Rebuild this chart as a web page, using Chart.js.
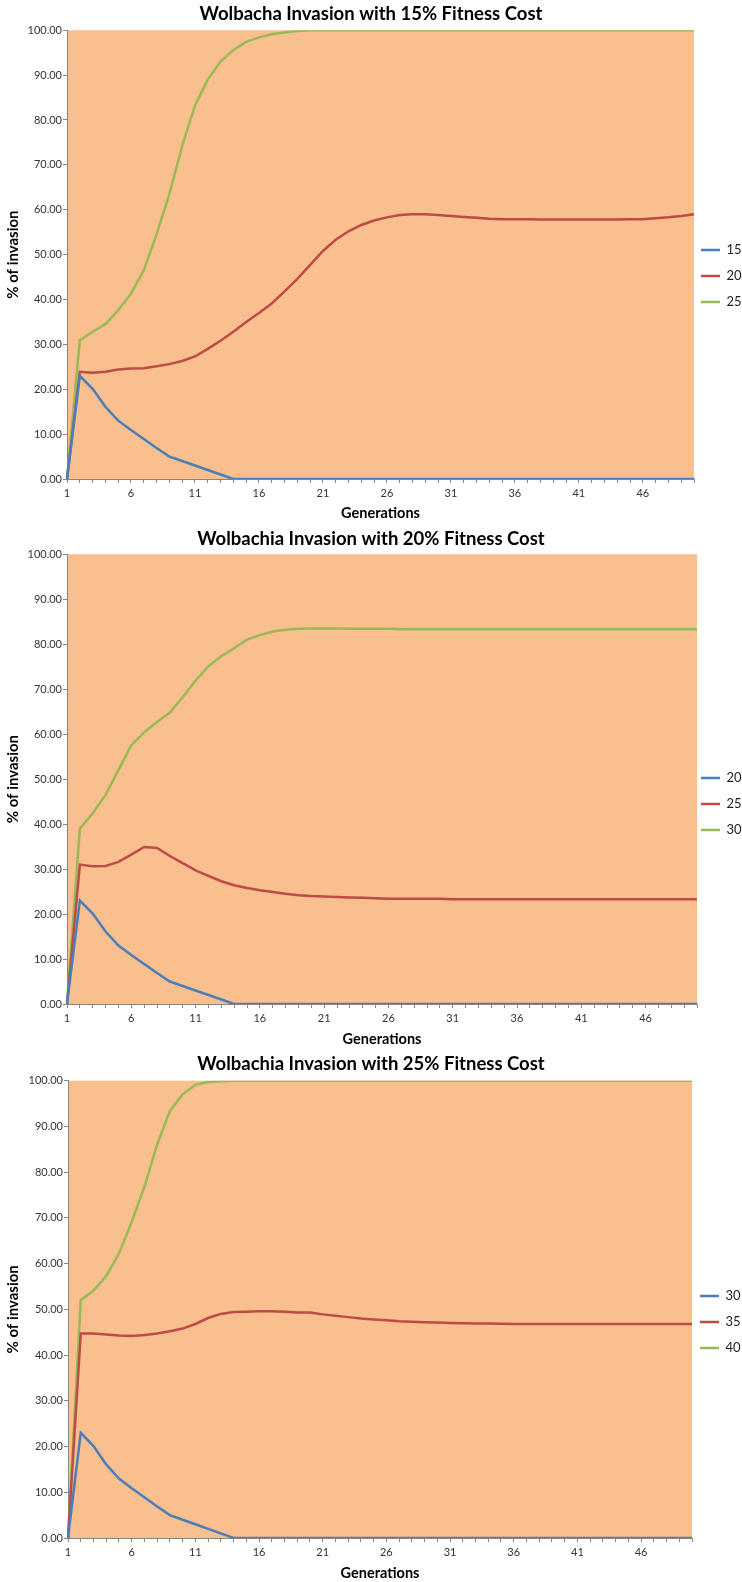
<!DOCTYPE html>
<html>
<head>
<meta charset="utf-8">
<title>Wolbachia Invasion</title>
<script src="https://cdn.jsdelivr.net/npm/chart.js@4.4.1/dist/chart.umd.min.js"></script>
<style>
  body { margin: 0; background: #fff; }
  canvas { display: block; }
</style>
</head>
<body>
<canvas id="grafico15" width="742" height="522"></canvas>
<canvas id="grafico20" width="742" height="526"></canvas>
<canvas id="grafico25" width="742" height="534"></canvas>
<script>
// Gerações (eixo x)
const geracoes = [
  '1','2','3','4','5','6','7','8','9','10',
  '11','12','13','14','15','16','17','18','19','20',
  '21','22','23','24','25','26','27','28','29','30',
  '31','32','33','34','35','36','37','38','39','40',
  '41','42','43','44','45','46','47','48','49','50'
];

// Rótulos do eixo y
const ticksY = [0, 10, 20, 30, 40, 50, 60, 70, 80, 90, 100];

// Títulos
const titulos = [
  'Wolbacha Invasion with 15% Fitness Cost',
  'Wolbachia Invasion with 20% Fitness Cost',
  'Wolbachia Invasion with 25% Fitness Cost'
];

// Nomes das séries em cada gráfico
const series15 = ['15', '20', '25'];
const series20 = ['20', '25', '30'];
const series25 = ['30', '35', '40'];

// Série azul (igual nos três gráficos)
const azul = [
  0, 23.0, 20.1, 16.1, 13.0, 10.9, 8.9, 6.9, 5.0, 4.0,
  3.0, 2.0, 1.0, 0, 0, 0, 0, 0, 0, 0,
  0, 0, 0, 0, 0, 0, 0, 0, 0, 0,
  0, 0, 0, 0, 0, 0, 0, 0, 0, 0,
  0, 0, 0, 0, 0, 0, 0, 0, 0, 0
];

// Gráfico 1 - 15% fitness cost
const vermelho15 = [
  0, 23.9, 23.7, 23.9, 24.4, 24.6, 24.7, 25.1, 25.6, 26.3,
  27.3, 29.0, 30.8, 32.8, 35.0, 37.0, 39.1, 41.8, 44.6, 47.7,
  50.8, 53.3, 55.2, 56.6, 57.6, 58.3, 58.8, 59.0, 59.0, 58.8,
  58.6, 58.4, 58.2, 58.0, 57.9, 57.9, 57.9, 57.8, 57.8, 57.8,
  57.8, 57.8, 57.8, 57.8, 57.9, 57.9, 58.1, 58.3, 58.6, 59.0
];
const verde15 = [
  0, 30.9, 32.8, 34.5, 37.6, 41.3, 46.5, 54.5, 63.5, 74.2,
  83.2, 89.0, 93.0, 95.6, 97.4, 98.4, 99.1, 99.5, 99.8, 100,
  100, 100, 100, 100, 100, 100, 100, 100, 100, 100,
  100, 100, 100, 100, 100, 100, 100, 100, 100, 100,
  100, 100, 100, 100, 100, 100, 100, 100, 100, 100
];

// Gráfico 2 - 20% fitness cost
const vermelho20 = [
  0, 31.0, 30.6, 30.7, 31.6, 33.2, 34.9, 34.7, 32.9, 31.3,
  29.7, 28.5, 27.3, 26.4, 25.8, 25.3, 24.9, 24.5, 24.2, 24.0,
  23.9, 23.8, 23.7, 23.6, 23.5, 23.4, 23.4, 23.4, 23.4, 23.4,
  23.3, 23.3, 23.3, 23.3, 23.3, 23.3, 23.3, 23.3, 23.3, 23.3,
  23.3, 23.3, 23.3, 23.3, 23.3, 23.3, 23.3, 23.3, 23.3, 23.3
];
const verde20 = [
  0, 39.0, 42.4, 46.5, 52.0, 57.5, 60.4, 62.7, 64.8, 68.2,
  71.9, 75.1, 77.3, 79.1, 81.0, 82.0, 82.8, 83.2, 83.4, 83.5,
  83.5, 83.5, 83.4, 83.4, 83.4, 83.4, 83.3, 83.3, 83.3, 83.3,
  83.3, 83.3, 83.3, 83.3, 83.3, 83.3, 83.3, 83.3, 83.3, 83.3,
  83.3, 83.3, 83.3, 83.3, 83.3, 83.3, 83.3, 83.3, 83.3, 83.3
];

// Gráfico 3 - 25% fitness cost
const vermelho25 = [
  0, 44.7, 44.7, 44.5, 44.3, 44.2, 44.4, 44.7, 45.2, 45.8,
  46.8, 48.1, 49.0, 49.4, 49.5, 49.6, 49.6, 49.5, 49.3, 49.3,
  48.9, 48.6, 48.3, 48.0, 47.8, 47.6, 47.4, 47.3, 47.2, 47.1,
  47.0, 46.95, 46.9, 46.9, 46.85, 46.8, 46.8, 46.8, 46.8, 46.8,
  46.8, 46.8, 46.8, 46.8, 46.8, 46.8, 46.8, 46.8, 46.8, 46.8
];
const verde25 = [
  0, 52.0, 54.1, 57.3, 62.2, 69.1, 76.8, 86.0, 93.4, 97.0,
  99.1, 99.7, 99.9, 100, 100, 100, 100, 100, 100, 100,
  100, 100, 100, 100, 100, 100, 100, 100, 100, 100,
  100, 100, 100, 100, 100, 100, 100, 100, 100, 100,
  100, 100, 100, 100, 100, 100, 100, 100, 100, 100
];

const cores = ['#4A7EBB', '#BE4B48', '#98B954'];
const corFundo = '#F9BF8F';
const corEixo = '#868686';
const fonteLegenda = 13;

Chart.defaults.font.family = 'Lato, "Open Sans", sans-serif';
Chart.defaults.color = '#333';

// Pinta a área do gráfico
const fundoGrafico = {
    id: 'fundoGrafico',
    beforeDraw(chart) {
        const { ctx, chartArea: a } = chart;
        ctx.save();
        ctx.fillStyle = corFundo;
        ctx.fillRect(a.left, a.top, a.right - a.left, a.bottom - a.top);
        ctx.restore();
    }
};

// Move a legenda para a posição do original
const posicionarLegenda = {
    id: 'posicionarLegenda',
    afterLayout(chart, args, opts) {
        const lg = chart.legend;
        if (!lg) return;
        const pad = lg.options.labels.padding;
        const h = lg.bottom - lg.top;
        lg.left = opts.x - pad;
        lg.right = chart.width;
        lg.width = lg.right - lg.left;
        lg.top = opts.y - pad - fonteLegenda / 2;
        lg.bottom = lg.top + h;
    }
};

function criarGrafico(id, titulo, nomes, valores, pos) {
    const ctx = document.getElementById(id).getContext('2d');
    return new Chart(ctx, {
        type: 'line',
        data: {
            labels: geracoes,
            datasets: nomes.map((nome, i) => ({
                label: nome,
                data: valores[i],
                borderColor: cores[i],
                backgroundColor: cores[i],
                borderWidth: 2.5,
                pointRadius: 0,
                tension: 0,
                fill: false
            }))
        },
        options: {
            responsive: false,
            animation: false,
            layout: { padding: 0 },
            plugins: {
                title: {
                    display: true,
                    text: titulo,
                    color: '#000',
                    font: { size: 18.5, weight: 'bold' },
                    padding: pos.titlePad
                },
                legend: {
                    position: 'right',
                    align: 'start',
                    maxWidth: pos.legendMax,
                    labels: {
                        usePointStyle: true,
                        pointStyle: 'line',
                        pointStyleWidth: 19,
                        padding: 13,
                        color: '#222',
                        font: { size: fonteLegenda }
                    }
                },
                tooltip: { enabled: false },
                posicionarLegenda: { x: pos.legendX, y: pos.legendY }
            },
            scales: {
                x: {
                    offset: false,
                    afterFit(scale) { scale.height = pos.xHeight; },
                    grid: {
                        drawOnChartArea: false,
                        drawTicks: true,
                        tickLength: 4,
                        color: corEixo
                    },
                    border: { display: true, color: corEixo },
                    ticks: {
                        autoSkip: false,
                        maxRotation: 0,
                        minRotation: 0,
                        padding: 4,
                        color: '#333',
                        font: { size: 11 },
                        callback(val, index) {
                            return index % 5 === 0 ? this.getLabelForValue(val) : '';
                        }
                    },
                    title: {
                        display: true,
                        text: 'Generations',
                        color: '#000',
                        font: { size: 14.5, weight: 'bold' },
                        padding: { top: 0, bottom: 0 }
                    }
                },
                y: {
                    min: ticksY[0],
                    max: ticksY[ticksY.length - 1],
                    afterFit(scale) { scale.width = pos.yWidth; },
                    afterBuildTicks(scale) {
                        scale.ticks = ticksY.map(v => ({ value: v }));
                    },
                    grid: {
                        drawOnChartArea: false,
                        drawTicks: true,
                        tickLength: 4,
                        color: corEixo
                    },
                    border: { display: true, color: corEixo },
                    ticks: {
                        padding: 1,
                        color: '#333',
                        font: { size: 11 },
                        callback: v => v.toFixed(2)
                    },
                    title: {
                        display: true,
                        text: '% of invasion',
                        color: '#000',
                        font: { size: 15, weight: 'bold' },
                        padding: { top: 4, bottom: 0 }
                    }
                }
            }
        },
        plugins: [fundoGrafico, posicionarLegenda]
    });
}

criarGrafico('grafico15', titulos[0], series15, [azul, vermelho15, verde15],
    { yWidth: 67, xHeight: 43, titlePad: { top: 3, bottom: 5 }, legendMax: 48, legendX: 701, legendY: 250 });
criarGrafico('grafico20', titulos[1], series20, [azul, vermelho20, verde20],
    { yWidth: 67, xHeight: 44, titlePad: { top: 6, bottom: 4 }, legendMax: 45, legendX: 701, legendY: 256 });
criarGrafico('grafico25', titulos[2], series25, [azul, vermelho25, verde25],
    { yWidth: 68, xHeight: 44, titlePad: { top: 5, bottom: 5.5 }, legendMax: 50, legendX: 700, legendY: 248 });
</script>
</body>
</html>
